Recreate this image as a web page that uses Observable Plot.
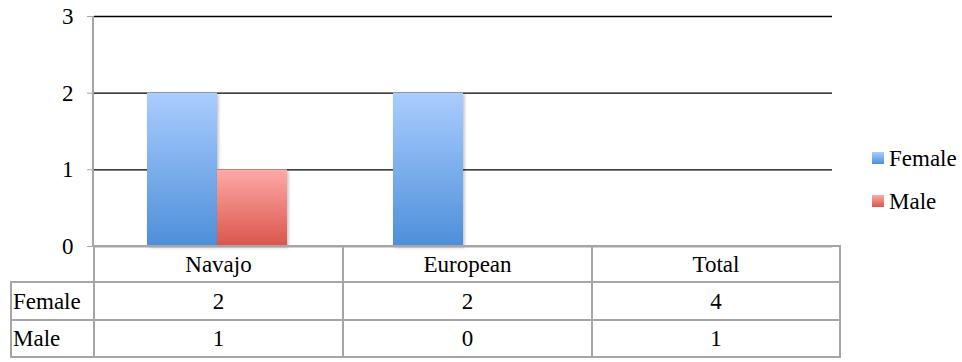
<!DOCTYPE html>
<html>
<head>
<meta charset="utf-8">
<script src="https://cdn.jsdelivr.net/npm/d3@7"></script>
<script src="https://cdn.jsdelivr.net/npm/@observablehq/plot@0.6"></script>
<style>
  html, body { margin: 0; padding: 0; background: #fff; }
  #wrap { position: relative; width: 962px; height: 362px; }
  #tbl { position: absolute; left: 10px; top: 245px; border-collapse: collapse; color: #000; }
  #tbl td { border: 2px solid #a6a6a6; text-align: center; padding: 0; line-height: 1; }
  #tbl td.rowhead { text-align: left; padding-left: 1px; }
  #tbl td.blank { border-left: none; border-top: none; border-bottom: 2px solid #a6a6a6; }
  #legend { position: absolute; left: 872px; top: 146px; }
  .li { display: flex; align-items: center; height: 24px; margin-bottom: 19px; line-height: 1; }
  .sw { width: 12px; height: 12px; margin-right: 5px; }
</style>
</head>
<body>
<div id="wrap"></div>
<script>
// ---- data ----
const categories = ["Navajo", "European", "Total"];
const series = ["Female", "Male"];
const femaleValues = [2, 2, 4];
const maleValues = [1, 0, 1];
const barCategories = ["Navajo", "European"]; // Total is shown only in the table
const yTicks = [0, 1, 2, 3];

const gradients = {
  Female: ["#aacdff", "#4d8fd9"],
  Male: ["#fdaaa7", "#da554b"]
};

// pick a Times-like font if one is installed
const cv = document.createElement("canvas").getContext("2d");
function hasFont(name) {
  cv.font = "40px monospace"; const a = cv.measureText("Navajo European 0123").width;
  cv.font = `40px "${name}", monospace`; const b = cv.measureText("Navajo European 0123").width;
  return a !== b;
}
const serifNames = ["Liberation Serif", "Tinos", "Times New Roman", "Nimbus Roman", "Nimbus Roman No9 L", "FreeSerif", "Noto Serif", "DejaVu Serif"];
const found = serifNames.find(hasFont);
const fontFamily = found ? `"${found}", serif` : `"Liberation Sans", Arial, sans-serif`;
const fontSize = found ? (found === "DejaVu Serif" ? 19 : 23) : 22;
const legendSize = found ? (found === "DejaVu Serif" ? 19 : 23) : 21;

const bars = [];
categories.forEach((c, i) => {
  const shown = barCategories.includes(c);
  bars.push({cat: c, sex: "Female", value: shown ? femaleValues[i] : null});
  bars.push({cat: c, sex: "Male", value: shown ? maleValues[i] : null});
});

const chart = Plot.plot({
  width: 962,
  height: 362,
  marginTop: 16,
  marginBottom: 116,
  marginLeft: 93,
  marginRight: 129,
  style: {fontFamily, background: "transparent"},
  fx: {domain: categories, padding: 0, axis: null},
  x: {domain: series, paddingInner: 0, paddingOuter: 0.74, axis: null},
  y: {domain: [0, 3], ticks: yTicks, tickFormat: d => String(d)},
  marks: [
    Plot.gridY(yTicks.filter(t => t > 0), {stroke: "#000", strokeOpacity: 1, strokeWidth: 1.3}),
    Plot.barY(bars, {
      fx: "cat", x: "sex", y: "value",
      fill: d => `url(#grad-${d.sex})`,
      filter: d => d.value == null || d.value > 0,
      inset: 0
    }),
    Plot.ruleY([0], {stroke: "#a6a6a6", strokeWidth: 2}),
    Plot.axisY(yTicks, {anchor: "left", tickSize: 7, tickPadding: 14, fontSize, stroke: "#a6a6a6", fill: "#000", label: null, tickFormat: d => String(d)})
  ]
});

// gradient defs and bar shadow
const svg = d3.select(chart.tagName === "svg" ? chart : chart.querySelector("svg"));
const defs = svg.insert("defs", ":first-child");
for (const s of series) {
  const g = defs.append("linearGradient").attr("id", `grad-${s}`).attr("x1", 0).attr("y1", 0).attr("x2", 0).attr("y2", 1);
  g.append("stop").attr("offset", "0%").attr("stop-color", gradients[s][0]);
  g.append("stop").attr("offset", "100%").attr("stop-color", gradients[s][1]);
}
const f = defs.append("filter").attr("id", "shadow").attr("x", "-10%").attr("y", "-10%").attr("width", "130%").attr("height", "130%");
f.append("feDropShadow").attr("dx", 1.5).attr("dy", 1.5).attr("stdDeviation", 1.5).attr("flood-color", "#000").attr("flood-opacity", 0.25);
svg.selectAll("rect").filter(function() { return (this.getAttribute("fill") || "").startsWith("url(#grad"); }).attr("filter", "url(#shadow)");

// vertical y axis line using the y scale
const ys = chart.scale("y");
svg.append("line")
  .attr("x1", 93).attr("x2", 93)
  .attr("y1", ys.apply(3)).attr("y2", ys.apply(0))
  .attr("stroke", "#a6a6a6").attr("stroke-width", 2);

const wrap = document.getElementById("wrap");
wrap.style.fontFamily = fontFamily;
wrap.appendChild(chart);
chart.style.position = "absolute";
chart.style.left = "0";
chart.style.top = "0";

// data table below the chart
const colW = [82, 247, 247, 246];
const rowH = [36, 38, 37];
const table = document.createElement("table");
table.id = "tbl";
table.style.fontFamily = fontFamily;
table.style.fontSize = fontSize + "px";
const head = table.insertRow();
head.style.height = rowH[0] + "px";
const blank = head.insertCell(); blank.className = "blank"; blank.style.width = colW[0] + "px";
categories.forEach((c, j) => { const td = head.insertCell(); td.textContent = c; td.style.width = colW[j + 1] + "px"; });
[["Female", femaleValues], ["Male", maleValues]].forEach(([name, vals], r) => {
  const tr = table.insertRow();
  tr.style.height = rowH[r + 1] + "px";
  const th = tr.insertCell(); th.className = "rowhead"; th.textContent = name;
  vals.forEach(v => { const td = tr.insertCell(); td.textContent = v; });
});
wrap.appendChild(table);

// legend
const legend = document.createElement("div");
legend.id = "legend";
legend.style.fontFamily = fontFamily;
legend.style.fontSize = legendSize + "px";
series.forEach(s => {
  const li = document.createElement("div"); li.className = "li";
  const sw = document.createElement("div"); sw.className = "sw";
  sw.style.background = `linear-gradient(${gradients[s][0]}, ${gradients[s][1]})`;
  const tx = document.createElement("span"); tx.textContent = s;
  li.appendChild(sw); li.appendChild(tx);
  legend.appendChild(li);
});
wrap.appendChild(legend);
</script>
</body>
</html>
